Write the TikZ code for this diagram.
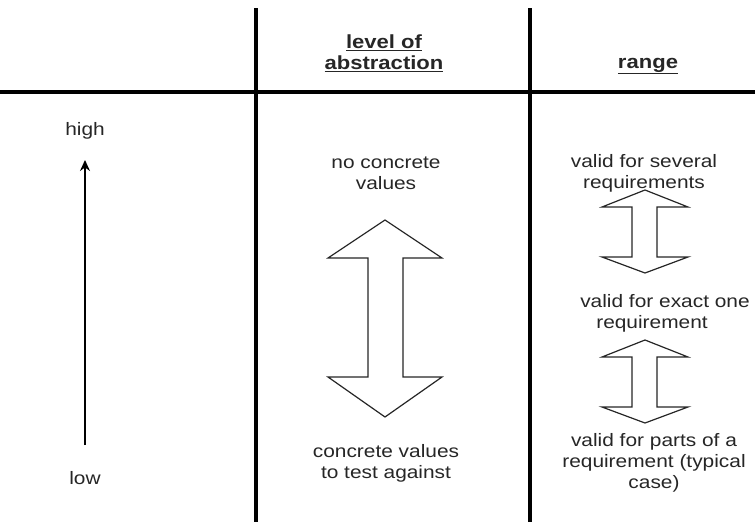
\documentclass[tikz,border=0pt]{standalone}
\usepackage{fontspec}
\setmainfont{Liberation Sans}[FakeStretch=1.16]
\usetikzlibrary{arrows.meta}
\begin{document}
\begin{tikzpicture}[x=1pt,y=-1pt,
  rule/.style={line width=4.5pt,black},
  txt/.style={align=center,font=\fontsize{18}{21}\selectfont,inner sep=0pt,text=black!85},
  head/.style={align=center,font=\fontsize{19}{21}\selectfont\bfseries,inner sep=0pt,text=black!85},
  bigarrow/.style={draw=black!85,line width=1.2pt,fill=white,line join=miter}]
\useasboundingbox (0,0) rectangle (755,522);
% grid
\coordinate (v1t) at (256,8);  \coordinate (v1b) at (256,522);
\coordinate (v2t) at (530,8);  \coordinate (v2b) at (530,522);
\coordinate (hl) at (0,92);    \coordinate (hr) at (755,92);
\draw[rule] (v1t) -- (v1b);
\draw[rule] (v2t) -- (v2b);
\draw[line width=4pt] (hl) -- (hr);
% headers
\node[head] (h1) at (384,53) {\underline{level of}\\\underline{abstraction}};
\node[head] (h2) at (648,66) {\underline{range}};
% left column
\node[txt] (high) at (85,131) {high};
\node[txt] (low) at (85,478) {low};
\coordinate (abot) at (85,445);
\coordinate (atop) at (85,160);
\draw[line width=1.4pt,-{Stealth[length=11pt,width=10pt]}] (abot) -- (atop);
% middle column
\node[txt] (nc) at (386,173) {no concrete\\values};
\node[txt] (cv) at (386,463) {concrete values\\to test against};
\draw[bigarrow] (385,220) -- (442,258) -- (403,258) -- (403,377) -- (442,377)
  -- (385,417) -- (328,377) -- (368,377) -- (368,258) -- (328,258) -- cycle;
% right column
\node[txt] (r1) at (644,173) {valid for several\\requirements};
\node[txt] (r2) at (665,313) {valid for exact one\\\hspace*{-26pt}requirement};
\node[txt] (r3) at (654,463) {valid for parts of a\\requirement (typical\\case)};
\draw[bigarrow] (645,190) -- (688,207) -- (657,207) -- (657,257) -- (688,257)
  -- (645,273) -- (602,257) -- (632,257) -- (632,207) -- (602,207) -- cycle;
\draw[bigarrow] (645,340) -- (688,357) -- (657,357) -- (657,407) -- (688,407)
  -- (645,423) -- (602,407) -- (632,407) -- (632,357) -- (602,357) -- cycle;
\end{tikzpicture}
\end{document}
